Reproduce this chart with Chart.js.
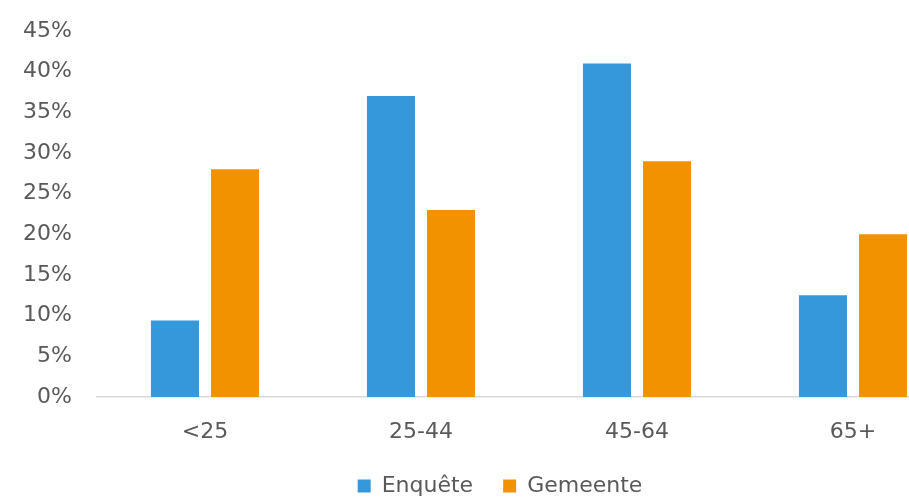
<!DOCTYPE html>
<html>
<head>
<meta charset="utf-8">
<script src="https://cdn.jsdelivr.net/npm/chart.js@4/dist/chart.umd.min.js"></script>
<style>
html,body{margin:0;padding:0;background:#fff;overflow:hidden;width:909px;height:497px;}
#wrap{position:absolute;left:0;top:0;width:1000px;height:507px;}
</style>
</head>
<body>
<div id="wrap"><canvas id="c" width="1000" height="507"></canvas></div>
<script>
const categories = ["<25", "25-44", "45-64", "65+"];
const enqueteValues = [0.094, 0.37, 0.41, 0.125];
const gemeenteValues = [0.28, 0.23, 0.29, 0.20];
const seriesNames = ["Enquête", "Gemeente"];
const yTickMax = 0.45;
const yTickStep = 0.05;

const FONT = "'DejaVu Sans', Verdana, sans-serif";
const TXT = "#595959";

const legendSpan = {
  id: 'legendSpan',
  afterLayout(chart) {
    const L = chart.legend;
    if (L) { L.left = 0; L.right = chart.width; L.width = chart.width; }
  }
};

new Chart(document.getElementById('c'), {
  type: 'bar',
  data: {
    labels: categories,
    datasets: [
      { label: seriesNames[0], data: enqueteValues, backgroundColor: '#3598DB', barPercentage: 0.8, categoryPercentage: 0.556 },
      { label: seriesNames[1], data: gemeenteValues, backgroundColor: '#F39200', barPercentage: 0.8, categoryPercentage: 0.556 }
    ]
  },
  plugins: [legendSpan],
  options: {
    responsive: false,
    animation: false,
    layout: { padding: { left: 0, right: 39, top: 0, bottom: 0 } },
    plugins: {
      tooltip: { enabled: false },
      legend: {
        position: 'bottom',
        labels: {
          color: TXT,
          font: { family: FONT, size: 22 },
          boxWidth: 13,
          boxHeight: 13,
          padding: 30
        }
      }
    },
    scales: {
      x: {
        afterFit: s => { s.height = 48; },
        grid: { display: false, drawTicks: false },
        border: { display: true, color: '#d9d9d9', width: 1.5 },
        ticks: { color: TXT, font: { family: FONT, size: 22 }, padding: 22 }
      },
      y: {
        min: 0,
        max: yTickMax,
        afterFit: s => { s.width = 97; s.paddingTop = 31; s.paddingBottom = 13; },
        grid: { display: false, drawTicks: false },
        border: { display: false },
        ticks: {
          stepSize: yTickStep,
          color: TXT,
          font: { family: FONT, size: 22 },
          padding: 25,
          callback: v => Math.round(v * 100) + '%'
        }
      }
    }
  }
});
</script>
</body>
</html>
